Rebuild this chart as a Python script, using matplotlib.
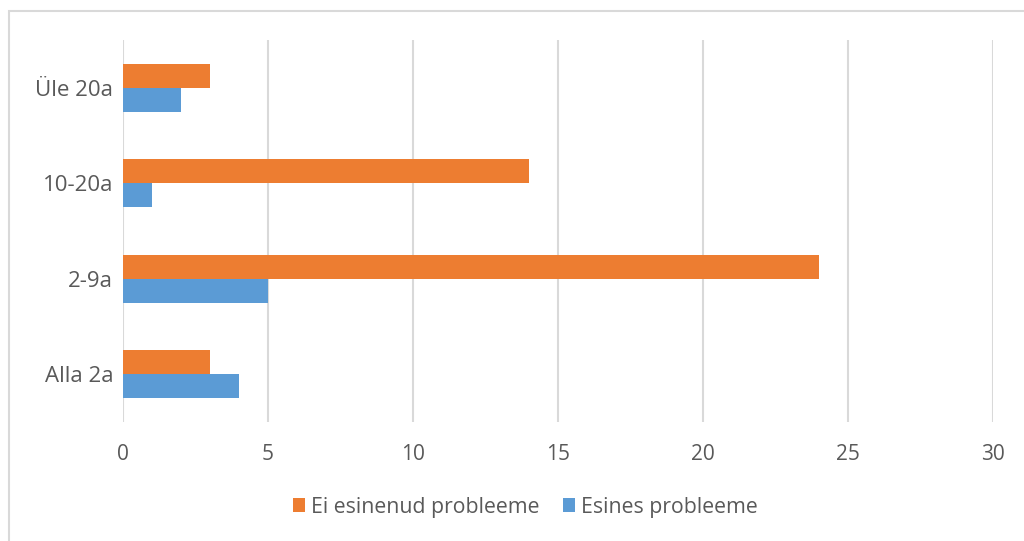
import numpy as np
import matplotlib.pyplot as plt
from matplotlib.patches import Rectangle

# age groups, bottom to top
groups = ['Alla 2a', '2-9a', '10-20a', 'Üle 20a']
ei_esinenud = [3, 24, 14, 3]
esines = [4, 5, 1, 2]
xticks = [0, 5, 10, 15, 20, 25, 30]

orange = '#ED7D31'
blue = '#5B9BD5'
txt = '#595959'

plt.rcParams['font.family'] = ['Open Sans', 'DejaVu Sans']

fig = plt.figure(figsize=(10.24, 5.41), dpi=100)
# chart frame
fig.patches.append(Rectangle((9/1024, -0.1), 1.2, 1 - 11/541 + 0.1,
                             transform=fig.transFigure, fill=False,
                             edgecolor='#D9D9D9', linewidth=1.5))
ax = fig.add_axes([123/1024, 1 - 422/541, (993 - 123)/1024, (422 - 40)/541])

y = np.arange(len(groups))
h = 0.25
ax.barh(y + h/2, ei_esinenud, height=h, color=orange, label='Ei esinenud probleeme', zorder=3)
ax.barh(y - h/2, esines, height=h, color=blue, label='Esines probleeme', zorder=3)

ax.set_xlim(0, 30)
ax.set_ylim(-0.5, len(groups) - 0.5)
ax.set_xticks(xticks)
ax.set_yticks(y)
ax.set_yticklabels(groups)
ax.grid(axis='x', color='#D9D9D9', linewidth=1.5, zorder=0)
for s in ax.spines.values():
    s.set_visible(False)
ax.tick_params(axis='x', length=0, pad=16, labelsize=15, labelcolor=txt)
ax.tick_params(axis='y', length=0, pad=7, labelsize=16, labelcolor=txt)

fig.legend(loc='center', bbox_to_anchor=(525/1024, 1 - 507/541), ncol=2,
           frameon=False, fontsize=15.3, labelcolor=txt, handlelength=0.6,
           handleheight=0.6, handletextpad=0.25, columnspacing=1.1)

fig.savefig('out.png', dpi=100, facecolor='white')
